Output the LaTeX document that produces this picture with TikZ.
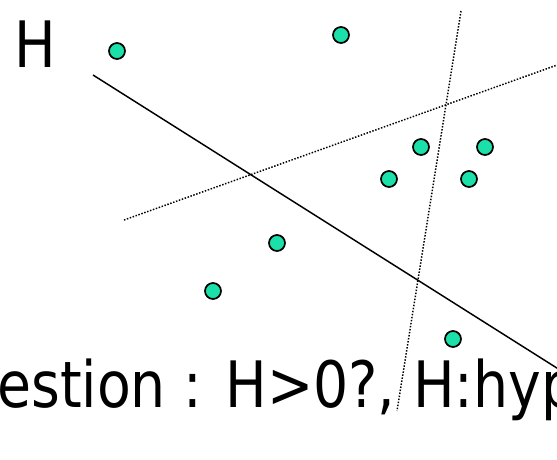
\documentclass[tikz,border=0pt]{standalone}
\usepackage{fontspec}
\setmainfont{DejaVu Sans Condensed}[FakeStretch=0.96]
\usetikzlibrary{positioning}
\definecolor{pTeal}{HTML}{1CE0AA}

\begin{document}
\begin{tikzpicture}[x=0.75pt, y=-0.75pt,
  pt/.style={circle, draw=black, line width=1.3pt, fill=pTeal, minimum size=12pt, inner sep=0pt},
  bigtxt/.style={font=\fontsize{48}{56}\selectfont, anchor=base west, inner sep=0pt},
  sep/.style={line width=1.1pt, dash pattern=on 1.1pt off 1.2pt},
  hyp/.style={line width=1.1pt},
]
  \useasboundingbox (0,0) rectangle (557,460);
  \clip (0,0) rectangle (557,460);

  % separating lines
  \coordinate (hA) at (93,75);
  \coordinate (hB) at (560,370);
  \coordinate (sA) at (124,220);
  \coordinate (sB) at (560,64);
  \coordinate (tA) at (461,11);
  \coordinate (tB) at (397,411);
  \draw[hyp] (hA) -- (hB);
  \draw[sep] (sA) -- (sB);
  \draw[sep] (tA) -- (tB);

  % sample points
  \node[pt] (p1) at (117,51) {};
  \node[pt] (p2) at (341,35) {};
  \node[pt] (p3) at (421,147) {};
  \node[pt] (p4) at (485,147) {};
  \node[pt] (p5) at (389,179) {};
  \node[pt] (p6) at (469,179) {};
  \node[pt] (p7) at (277,243) {};
  \node[pt] (p8) at (213,291) {};
  \node[pt] (p9) at (453,339) {};

  \node[bigtxt] (hname) at (14,68) {H};
  \node[bigtxt] (quest) at (-3,407) {estion : H>0?, H:hyp};
\end{tikzpicture}
\end{document}
